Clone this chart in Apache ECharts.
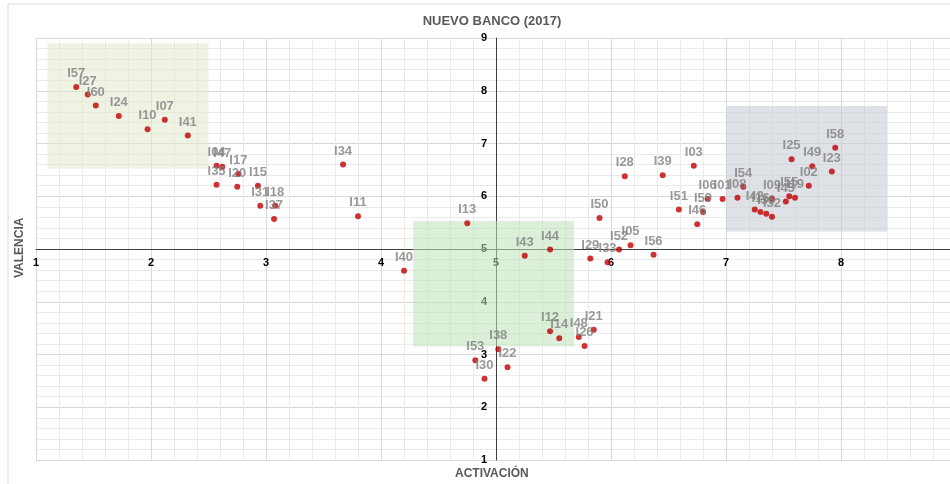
<!DOCTYPE html>
<html>
<head>
<meta charset="utf-8">
<script src="https://cdn.jsdelivr.net/npm/echarts@6/dist/echarts.min.js"></script>
<style>
html, body { margin: 0; padding: 0; background: #fff; }
#chart { width: 950px; height: 484px; }
</style>
</head>
<body>
<div id="chart"></div>
<script>
// nombres de los puntos y sus coordenadas (activación, valencia)
var names = ['I57', 'I27', 'I60', 'I24', 'I10', 'I07', 'I41', 'I04', 'I47', 'I17',
    'I35', 'I20', 'I15', 'I31', 'I18', 'I37', 'I34', 'I11', 'I13', 'I40',
    'I43', 'I44', 'I29', 'I33', 'I52', 'I05', 'I56', 'I50', 'I28', 'I39',
    'I03', 'I51', 'I59', 'I46', 'I06', 'I01', 'I08', 'I54', 'I42', 'I16',
    'I36', 'I32', 'I09', 'I45', 'I55', 'I19', 'I02', 'I25', 'I49', 'I23',
    'I58', 'I12', 'I14', 'I48', 'I21', 'I26', 'I38', 'I53', 'I22', 'I30'];
var activacion = [1.35, 1.45, 1.52, 1.72, 1.97, 2.12, 2.32, 2.57, 2.62, 2.76,
    2.57, 2.75, 2.93, 2.95, 3.08, 3.07, 3.67, 3.80, 4.75, 4.20,
    5.25, 5.47, 5.82, 5.97, 6.07, 6.17, 6.37, 5.90, 6.12, 6.45,
    6.72, 6.59, 6.80, 6.75, 6.84, 6.97, 7.10, 7.15, 7.25, 7.30,
    7.35, 7.40, 7.40, 7.52, 7.55, 7.60, 7.72, 7.57, 7.75, 7.92,
    7.95, 5.47, 5.55, 5.72, 5.85, 5.77, 5.02, 4.82, 5.10, 4.90];
var valencia = [8.07, 7.93, 7.72, 7.52, 7.27, 7.45, 7.15, 6.58, 6.56, 6.42,
    6.22, 6.18, 6.20, 5.82, 5.82, 5.57, 6.60, 5.62, 5.49, 4.59,
    4.87, 4.99, 4.82, 4.75, 4.99, 5.07, 4.89, 5.59, 6.38, 6.40,
    6.58, 5.75, 5.70, 5.47, 5.95, 5.95, 5.97, 6.18, 5.75, 5.70,
    5.67, 5.61, 5.95, 5.90, 6.00, 5.97, 6.20, 6.70, 6.57, 6.47,
    6.92, 3.44, 3.31, 3.33, 3.47, 3.16, 3.10, 2.89, 2.76, 2.54];

// zonas sombreadas: [xmin, ymin, xmax, ymax]
var zonaAlta = [1.1, 6.52, 2.5, 8.9];
var zonaCentro = [4.28, 3.15, 5.68, 5.53];
var zonaDerecha = [7.0, 5.33, 8.4, 7.71];

var chart = echarts.init(document.getElementById('chart'));

var points = names.map(function (n, i) {
    return { name: n, value: [activacion[i], valencia[i]] };
});

function area(z, color) {
    return [{ xAxis: z[0], yAxis: z[1], itemStyle: { color: color } }, { xAxis: z[2], yAxis: z[3] }];
}

var option = {
    animation: false,
    textStyle: { fontFamily: 'Liberation Sans, Arial, sans-serif' },
    title: {
        text: 'NUEVO BANCO (2017)',
        left: 487,
        textAlign: 'center',
        top: 10,
        textStyle: { fontSize: 13, fontWeight: 'bold', color: '#595959' }
    },
    grid: {
        left: 36,
        top: 38,
        width: 920,
        height: 422,
        outerBoundsMode: 'none'
    },
    graphic: [
        {
            type: 'rect', silent: true, z: -10,
            shape: { x: 8, y: 4, width: 1000, height: 600 },
            style: { fill: 'none', stroke: '#d9d9d9', lineWidth: 1 }
        },
        {
            type: 'text', left: 455, top: 468,
            style: { text: 'ACTIVACIÓN', fill: '#595959', font: 'bold 12px Liberation Sans, Arial' }
        },
        {
            type: 'text', x: 14, y: 278, rotation: Math.PI / 2,
            style: { text: 'VALENCIA', fill: '#595959', font: 'bold 12px Liberation Sans, Arial' }
        }
    ],
    xAxis: {
        type: 'value',
        min: 1,
        max: 9,
        interval: 1,
        offset: -211,
        axisLine: { show: true, lineStyle: { color: '#404040', width: 1 } },
        axisTick: { show: false },
        axisLabel: { color: '#000', fontWeight: 'bold', fontSize: 11, margin: 8 },
        splitLine: { show: true, lineStyle: { color: '#d9d9d9' } },
        minorTick: { show: false, splitNumber: 5 },
        minorSplitLine: { show: true, lineStyle: { color: '#ebebeb' } }
    },
    yAxis: {
        type: 'value',
        min: 1,
        max: 9,
        interval: 1,
        offset: -460,
        axisLine: { show: true, lineStyle: { color: '#404040', width: 1 } },
        axisTick: { show: false },
        axisLabel: { color: '#000', fontWeight: 'bold', fontSize: 11, margin: 9 },
        splitLine: { show: true, lineStyle: { color: '#d9d9d9' } },
        minorTick: { show: false, splitNumber: 5 },
        minorSplitLine: { show: true, lineStyle: { color: '#ebebeb' } }
    },
    series: [{
        type: 'scatter',
        data: points,
        symbolSize: 6,
        itemStyle: { color: '#c00000' },
        label: {
            show: true,
            position: 'top',
            distance: 4,
            formatter: '{b}',
            color: '#7f7f7f',
            fontSize: 13,
            fontWeight: 'bold'
        },
        markArea: {
            silent: true,
            data: [
                area(zonaAlta, 'rgba(226,234,205,0.55)'),
                area(zonaCentro, 'rgba(190,225,185,0.55)'),
                area(zonaDerecha, 'rgba(200,205,212,0.6)')
            ]
        }
    }]
};

chart.setOption(option);
</script>
</body>
</html>
